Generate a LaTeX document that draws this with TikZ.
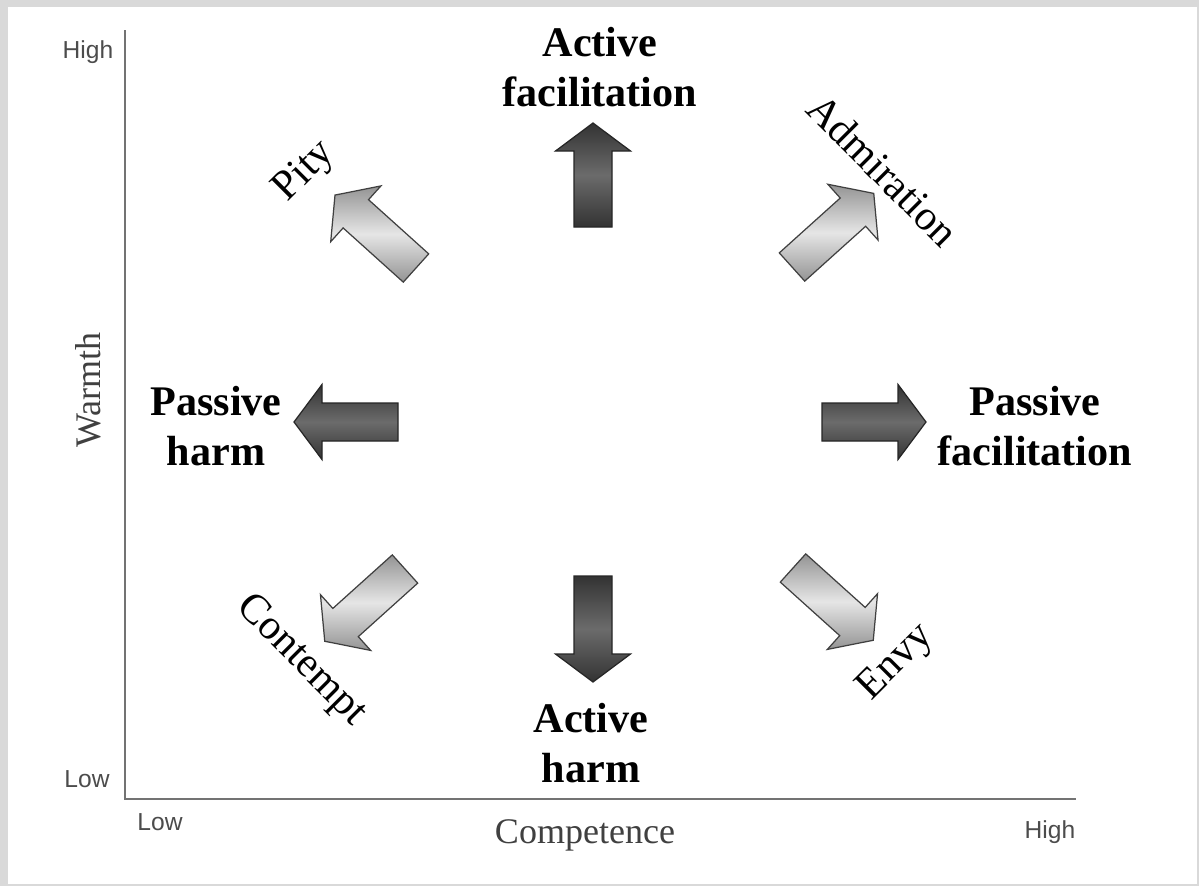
\documentclass[tikz,border=0pt]{standalone}
\usepackage{fontspec}
\setmainfont{Liberation Serif}
\newfontfamily\axisfont{Liberation Sans}
\usetikzlibrary{positioning}

\tikzset{
  bigword/.style={font=\fontsize{24}{28}\selectfont\bfseries, align=center, inner sep=0pt},
  feelword/.style={font=\fontsize{24}{28}\selectfont, inner sep=0pt},
  axisword/.style={font=\fontsize{20.5}{24}\selectfont, text=black!75, inner sep=0pt},
  tickword/.style={font=\axisfont\fontsize{14}{16}\selectfont, text=black!70, inner sep=0pt},
  darkarrow/.style={draw=black!85, line width=0.7pt, top color=black!80, bottom color=black!80, middle color=black!58},
  lightarrow/.style={draw=black!75, line width=0.7pt, top color=black!42, bottom color=black!42, middle color=black!10}
}

\begin{document}
\begin{tikzpicture}[x=0.02cm, y=-0.02cm]

            \useasboundingbox (0,0) rectangle (1199,886);
            \fill[black!15] (0,0) rectangle (1199,886);
            \fill[white] (8,7) rectangle (1197,884);

            % axes
            \draw[black!55, line width=1.1pt] (125,30) -- (125,799) -- (1076,799);

            \node[tickword] (wHigh) at (88,52) {High};
            \node[tickword] (wLow) at (87,779) {Low};
            \node[tickword] (cLow) at (160,822) {Low};
            \node[tickword] (cHigh) at (1050,832) {High};
            \node[axisword, rotate=90] (warmth) at (88,390) {Warmth};
            \node[axisword] (competence) at (585,835) {Competence};

            % behaviours
            \foreach \x/\y/\a/\len in {593/227/90/104, 593/576/270/106, 398/422/180/104, 822/422/0/104}
              \shadedraw[darkarrow, shift={(\x,\y)}, rotate=\a] (0,-19) -- (\len-28,-19) -- (\len-28,-37.5) -- (\len,0) -- (\len-28,37.5) -- (\len-28,19) -- (0,19) -- cycle;

            % emotions
            \foreach \x/\y/\a/\len in {416/268/138/109, 792/267/42/110, 405/569/222/108, 793/568/318/108}
              \shadedraw[lightarrow, shift={(\x,\y)}, rotate=\a] (0,-19) -- (\len-28,-19) -- (\len-28,-37.5) -- (\len,0) -- (\len-28,37.5) -- (\len-28,19) -- (0,19) -- cycle;

            \node[bigword] (actFac) at (600,67) {Active\\facilitation};
            \node[bigword] (actHarm) at (591,743) {Active\\harm};
            \node[bigword] (pasHarm) at (216,426) {Passive\\harm};
            \node[bigword] (pasFac) at (1035,426) {Passive\\facilitation};

            \node[feelword, rotate=45] (pity) at (305,172) {Pity};
            \node[feelword, rotate=-45] (admiration) at (883,170) {Admiration};
            \node[feelword, rotate=-45] (contempt) at (301,661) {Contempt};
            \node[feelword, rotate=45] (envy) at (896,663) {Envy};

          \end{tikzpicture}
\end{document}
